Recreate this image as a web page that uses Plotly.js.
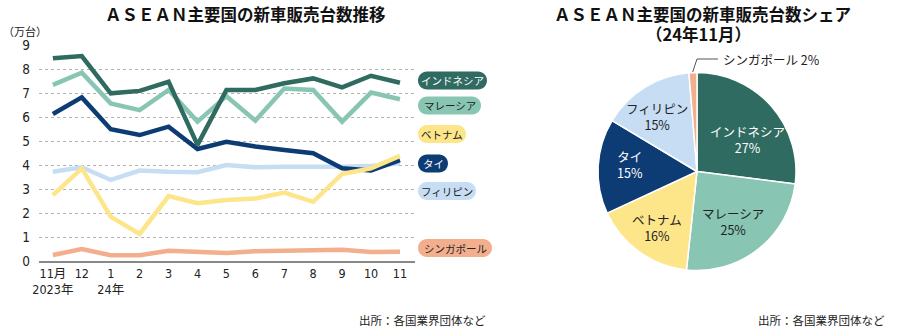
<!DOCTYPE html>
<html>
<head>
<meta charset="utf-8">
<script src="https://cdn.plot.ly/plotly-3.0.1.min.js"></script>
<style>html,body{margin:0;padding:0;background:#fff;}#chart{width:900px;height:336px;}</style>
</head>
<body>
<div id="chart"></div>
<script>
// ---- data ----
const months = ['11月<br>2023年','12','1<br>24年','2','3','4','5','6','7','8','9','10','11'];
const indonesia   = [8.46, 8.55, 7.00, 7.10, 7.48, 4.85, 7.14, 7.14, 7.42, 7.62, 7.25, 7.73, 7.44];
const malaysia    = [7.35, 7.86, 6.58, 6.30, 7.14, 5.82, 6.88, 5.86, 7.20, 7.14, 5.82, 7.03, 6.75];
const vietnam     = [2.76, 3.87, 1.86, 1.14, 2.72, 2.42, 2.55, 2.62, 2.86, 2.48, 3.64, 3.87, 4.39];
const thailand    = [6.14, 6.83, 5.50, 5.26, 5.61, 4.68, 4.98, 4.78, 4.64, 4.50, 3.88, 3.78, 4.22];
const philippines = [3.73, 3.92, 3.39, 3.78, 3.73, 3.71, 4.01, 3.92, 3.94, 3.92, 3.94, 3.97, 4.08];
const singapore   = [0.26, 0.51, 0.25, 0.25, 0.44, 0.39, 0.35, 0.42, 0.44, 0.45, 0.48, 0.39, 0.40];

const countryNames = ['インドネシア','マレーシア','ベトナム','タイ','フィリピン','シンガポール'];
const shareValues  = [27.0, 24.7, 16.4, 15.5, 15.1, 1.3];
const shareText    = ['27%','25%','16%','15%','15%','2%'];

const yTicks = [0,1,2,3,4,5,6,7,8,9];

// ---- styles ----
const colors = ['#2f6b60','#88c5b2','#fde58a','#0d3b74','#c6ddf3','#f3ae8e'];
const badgeText = ['#ffffff','#222222','#222222','#ffffff','#222222','#222222'];
const pieText = ['#ffffff','#222222','#222222','#ffffff','#222222'];
const W = 900, H = 336;
const px = x => x / W;
const py = y => 1 - y / H;
const JP = '"Noto Sans CJK JP", "Noto Sans", sans-serif';
const NUM = '"Liberation Sans Narrow", "DejaVu Sans Condensed", "Noto Sans CJK JP", sans-serif';

const series = [indonesia, malaysia, vietnam, thailand, philippines, singapore];
const drawOrder = [5, 4, 3, 1, 0, 2];

const traces = drawOrder.map(i => ({
  type: 'scatter', mode: 'lines', x: months, y: series[i], name: countryNames[i],
  line: {color: colors[i], width: 4.5}, hoverinfo: 'skip', showlegend: false,
  xaxis: 'x', yaxis: 'y'
}));

traces.push({
  type: 'pie', labels: countryNames, values: shareValues, sort: false,
  direction: 'clockwise', rotation: 0, textinfo: 'none', hoverinfo: 'skip',
  marker: {colors: colors, line: {color: '#ffffff', width: 1.5}},
  domain: {x: [px(598), px(796)], y: [py(270.5), py(72.5)]}, showlegend: false
});

// badges (legend labels on the right of the line chart)
const badgeBox = [[418,487,80.5],[418,481,105.5],[418,466,134],[418,448,163.5],[418,476,191],[418,492,248]];
const shapes = [];
const annotations = [];
badgeBox.forEach((b, i) => {
  const w = b[1] - b[0], hw = w / 2, r = 9, k = 5;
  const path = `M ${-hw + r} -9 L ${hw - r} -9 C ${hw - r + k} -9 ${hw} ${-k} ${hw} 0 C ${hw} ${k} ${hw - r + k} 9 ${hw - r} 9 L ${-hw + r} 9 C ${-hw + r - k} 9 ${-hw} ${k} ${-hw} 0 C ${-hw} ${-k} ${-hw + r - k} -9 ${-hw + r} -9 Z`;
  shapes.push({type: 'path', xref: 'paper', yref: 'paper', xsizemode: 'pixel', ysizemode: 'pixel',
    xanchor: px((b[0] + b[1]) / 2), yanchor: py(b[2]), path: path,
    fillcolor: colors[i], line: {width: 0}, layer: 'above'});
  annotations.push({xref: 'paper', yref: 'paper', x: px((b[0] + b[1]) / 2), y: py(b[2]),
    text: countryNames[i], showarrow: false, xanchor: 'center', yanchor: 'middle',
    font: {family: JP, size: 10.5, color: badgeText[i]}});
});

// pie labels
const pieLabelPos = [[747,139.5],[733,221],[657,227],[630,164],[657,116]];
pieLabelPos.forEach((p, i) => {
  annotations.push({xref: 'paper', yref: 'paper', x: px(p[0]), y: py(p[1]),
    text: countryNames[i] + '<br>' + shareText[i], showarrow: false, xanchor: 'center', yanchor: 'middle',
    font: {family: JP, size: 12.5, color: pieText[i]}});
});
annotations.push({xref: 'paper', yref: 'paper', x: px(721), y: py(59),
  text: countryNames[5] + ' ' + shareText[5], showarrow: false, xanchor: 'left', yanchor: 'middle',
  font: {family: JP, size: 12.5, color: '#222'}});
shapes.push({type: 'path', xref: 'paper', yref: 'paper',
  path: `M ${px(692.7)} ${py(72)} L ${px(697)} ${py(59)} L ${px(718)} ${py(59)}`,
  line: {color: '#555', width: 1}});

// titles & notes
const note = '出所：各国業界団体など';
annotations.push(
  {xref:'paper', yref:'paper', x: px(246), y: py(14.5), text: 'ＡＳＥＡＮ主要国の新車販売台数推移', showarrow:false,
   xanchor:'center', yanchor:'middle', font:{family: JP, size: 16.5, color:'#111', weight: 700}},
  {xref:'paper', yref:'paper', x: px(702), y: py(14), text: 'ＡＳＥＡＮ主要国の新車販売台数シェア', showarrow:false,
   xanchor:'center', yanchor:'middle', font:{family: JP, size: 16.5, color:'#111', weight: 700}},
  {xref:'paper', yref:'paper', x: px(698), y: py(34), text: '（24年11月）', showarrow:false,
   xanchor:'center', yanchor:'middle', font:{family: JP, size: 16.5, color:'#111', weight: 700}},
  {xref:'paper', yref:'paper', x: px(25), y: py(31), text: '（万台）', showarrow:false,
   xanchor:'center', yanchor:'middle', font:{family: JP, size: 11, color:'#222'}},
  {xref:'paper', yref:'paper', x: px(488), y: py(320), text: note, showarrow:false,
   xanchor:'right', yanchor:'middle', font:{family: JP, size: 11.5, color:'#222'}},
  {xref:'paper', yref:'paper', x: px(887), y: py(320), text: note, showarrow:false,
   xanchor:'right', yanchor:'middle', font:{family: JP, size: 11.5, color:'#222'}}
);

const layout = {
  width: W, height: H, margin: {l:0, r:0, t:0, b:0},
  paper_bgcolor: '#ffffff', plot_bgcolor: '#ffffff', showlegend: false,
  xaxis: {domain: [px(39), px(415)], type: 'category', range: [-0.48, 12.52],
    showgrid: false, zeroline: false, showline: true, linecolor: '#888', linewidth: 1.5,
    ticks: '', tickangle: 0, automargin: false, tickfont: {family: NUM, size: 12.5, color: '#222'}, fixedrange: true},
  yaxis: {domain: [py(261.3), py(45.3)], range: [0, 9], tickvals: yTicks, ticktext: yTicks.map(String),
    showgrid: true, gridcolor: '#b3b3b3', griddash: 'dot', gridwidth: 1, zeroline: false, showline: false,
    ticks: '', ticklabelstandoff: 8, automargin: false, tickfont: {family: NUM, size: 13.5, color: '#222'}, fixedrange: true},
  shapes: shapes, annotations: annotations
};

Plotly.newPlot('chart', traces, layout, {displayModeBar: false, staticPlot: true});
</script>
</body>
</html>
